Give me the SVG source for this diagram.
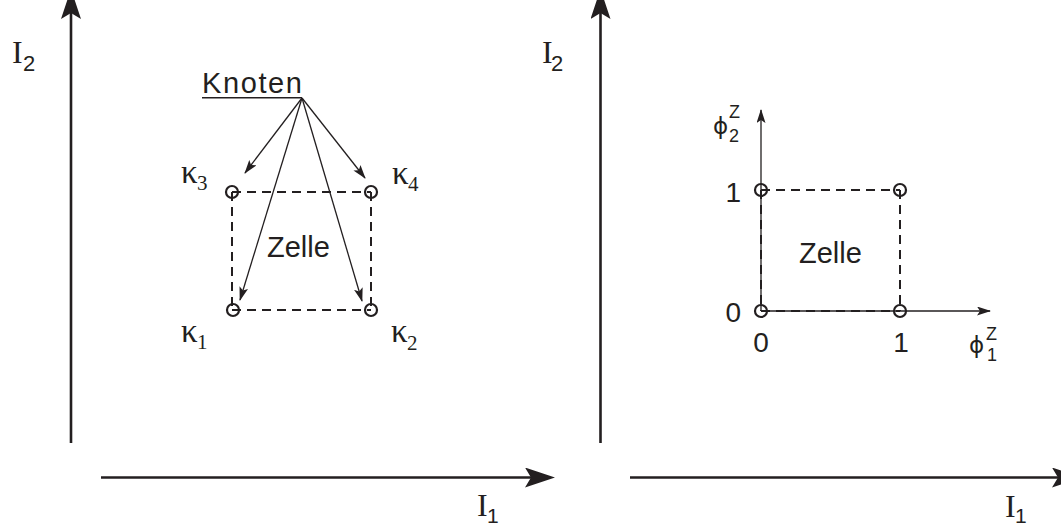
<svg xmlns="http://www.w3.org/2000/svg" width="1061" height="525" viewBox="0 0 1061 525">
<style>
.axis{stroke:#231f20;stroke-width:2.6;fill:none}
.thin{stroke:#231f20;stroke-width:1.3;fill:none}
.dash{stroke:#231f20;stroke-width:2;fill:none;stroke-dasharray:9 6}
.node{stroke:#231f20;stroke-width:2.2;fill:none}
.serif{font-family:"Liberation Serif","Times New Roman",serif;fill:#231f20}
.sans{font-family:"Liberation Sans",Arial,sans-serif;fill:#231f20}
.phi{font-family:"DejaVu Sans","Liberation Sans",sans-serif;fill:#231f20}
</style>
<defs>
<marker id="big" viewBox="0 0 30 20" markerWidth="30" markerHeight="20" refX="6" refY="10" orient="auto" markerUnits="userSpaceOnUse">
<path d="M0,0 L30,10 L0,20 L6,10 z" fill="#231f20"/>
</marker>
<marker id="small" viewBox="0 0 14 9" markerWidth="14" markerHeight="9" refX="13" refY="4.5" orient="auto" markerUnits="userSpaceOnUse">
<path d="M0,0 L14,4.5 L0,9 L3,4.5 z" fill="#231f20"/>
</marker>
</defs>

<g id="connectors">
<line class="axis" x1="71" y1="443" x2="71" y2="13" marker-end="url(#big)"/>
<line class="axis" x1="101" y1="477.5" x2="531" y2="477.5" marker-end="url(#big)"/>
<line class="axis" x1="600.5" y1="443" x2="600.5" y2="13" marker-end="url(#big)"/>
<line class="axis" x1="630" y1="477.5" x2="1058" y2="477.5" marker-end="url(#big)"/>
<line class="thin" x1="302" y1="98" x2="245" y2="173" marker-end="url(#small)"/>
<line class="thin" x1="302" y1="98" x2="240" y2="300" marker-end="url(#small)"/>
<line class="thin" x1="302" y1="98" x2="362" y2="301" marker-end="url(#small)"/>
<line class="thin" x1="302" y1="98" x2="365" y2="178" marker-end="url(#small)"/>
<path class="dash" d="M232,192 L371,192 M232,192 L232,310 M232,310 L371,310 M371,192 L371,310"/>
<line class="thin" x1="761" y1="311" x2="761" y2="110" marker-end="url(#small)"/>
<line class="thin" x1="761" y1="311" x2="990" y2="311" marker-end="url(#small)"/>
<path class="dash" d="M761,190 L900,190 M900,190 L900,311 M761,311 L900,311 M761,190 L761,311"/>
</g>

<g id="axis-labels">
<text class="serif" x="12" y="63" font-size="32">I</text><text class="sans" x="23" y="71" font-size="22">2</text>
<text class="serif" x="477" y="516" font-size="32">I</text><text class="sans" x="487" y="523" font-size="21">1</text>
<text class="serif" x="542" y="63" font-size="32">I</text><text class="sans" x="551" y="71" font-size="22">2</text>
<text class="serif" x="1005" y="517" font-size="32">I</text><text class="sans" x="1015" y="523" font-size="21">1</text>
</g>

<g id="knoten">
<text class="sans" x="202" y="93" font-size="29" textLength="100">Knoten</text>
<line x1="202" y1="97.7" x2="302" y2="97.7" stroke="#231f20" stroke-width="1.5"/>
</g>

<g id="k3"><circle class="node" cx="232" cy="192" r="6"/><text class="serif" x="181" y="183" font-size="33">κ</text><text class="serif" x="197" y="190" font-size="21">3</text></g>
<g id="k4"><circle class="node" cx="371" cy="192" r="6"/><text class="serif" x="392" y="184" font-size="33">κ</text><text class="serif" x="408" y="191" font-size="21">4</text></g>
<g id="k1"><circle class="node" cx="233" cy="310" r="6"/><text class="serif" x="181" y="342" font-size="33">κ</text><text class="serif" x="197" y="349" font-size="21">1</text></g>
<g id="k2"><circle class="node" cx="371" cy="310" r="6"/><text class="serif" x="391" y="342" font-size="33">κ</text><text class="serif" x="407" y="350" font-size="21">2</text></g>
<g id="zelle-left"><text class="sans" x="267" y="257" font-size="29">Zelle</text></g>

<g id="n00"><circle class="node" cx="761" cy="311" r="6"/></g>
<g id="n10"><circle class="node" cx="900" cy="311" r="6"/></g>
<g id="n01"><circle class="node" cx="761" cy="190" r="6"/></g>
<g id="n11"><circle class="node" cx="900" cy="190" r="6"/></g>

<g id="right-labels">
<text class="sans" x="741" y="202" font-size="28" text-anchor="end">1</text>
<text class="sans" x="741" y="322" font-size="28" text-anchor="end">0</text>
<text class="sans" x="761" y="352" font-size="28" text-anchor="middle">0</text>
<text class="sans" x="901" y="352" font-size="28" text-anchor="middle">1</text>
<text class="sans" x="799" y="263" font-size="29">Zelle</text>
<text class="phi" x="713" y="134" font-size="23">ϕ</text>
<text class="sans" x="729" y="118" font-size="18">Z</text>
<text class="sans" x="729" y="142" font-size="18">2</text>
<text class="phi" x="969" y="353" font-size="23">ϕ</text>
<text class="sans" x="986" y="340" font-size="18">Z</text>
<text class="sans" x="987" y="361" font-size="18">1</text>
</g>
</svg>
